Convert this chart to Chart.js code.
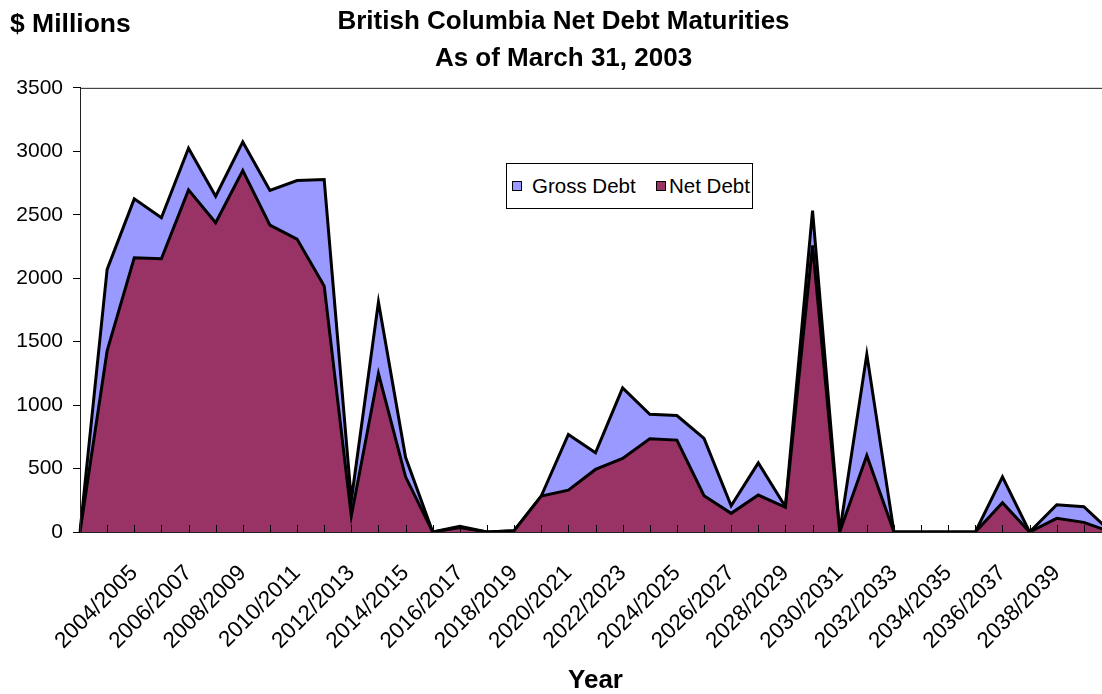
<!DOCTYPE html>
<html>
<head>
<meta charset="utf-8">
<script src="https://cdn.jsdelivr.net/npm/chart.js@4"></script>
<style>
  html, body { margin: 0; padding: 0; background: #fff; overflow: hidden; }
  canvas { display: block; }
  #wrap { position: relative; width: 1111px; height: 694px; }
  #legend {
    position: absolute; left: 506px; top: 163px; width: 245px; height: 44px;
    border: 1px solid #000; background: #fff;
    font-family: 'Liberation Sans', Arial, sans-serif; font-size: 20.5px; color: #000;
  }
  #legend .item {
    position: absolute; top: 0; height: 44px; display: flex; align-items: center;
    white-space: nowrap;
  }
  #legend .sw { width: 8px; height: 8px; border: 1.5px solid #000; }
</style>
</head>
<body>
<div id="wrap">
  <canvas id="debtChart" width="1111" height="694"></canvas>
  <div id="legend"></div>
</div>
<script>
const years = [
  "", "2003/2004", "2004/2005", "2005/2006", "2006/2007", "2007/2008",
  "2008/2009", "2009/2010", "2010/2011", "2011/2012", "2012/2013",
  "2013/2014", "2014/2015", "2015/2016", "2016/2017", "2017/2018",
  "2018/2019", "2019/2020", "2020/2021", "2021/2022", "2022/2023",
  "2023/2024", "2024/2025", "2025/2026", "2026/2027", "2027/2028",
  "2028/2029", "2029/2030", "2030/2031", "2031/2032", "2032/2033",
  "2033/2034", "2034/2035", "2035/2036", "2036/2037", "2037/2038",
  "2038/2039", "2039/2040", "2040/2041"
];

const grossDebt = [
  0, 2069, 2625, 2476, 3024, 2646, 3074, 2691, 2769, 2777,
  252, 1812, 588, 0, 45, 0, 10, 283, 769, 624,
  1135, 928, 918, 737, 207, 545, 199, 2533, 0, 1400,
  0, 0, 0, 0, 435, 0, 215, 199, 0
];

const netDebt = [
  0, 1427, 2161, 2153, 2696, 2437, 2848, 2418, 2308, 1938,
  126, 1249, 435, 0, 35, 0, 10, 283, 330, 493,
  580, 734, 724, 286, 147, 291, 195, 2258, 0, 602,
  0, 0, 0, 0, 231, 0, 108, 76, 0
];

Chart.defaults.font.family = "'Liberation Sans', Arial, sans-serif";
Chart.defaults.color = "#000000";

// extra bits Excel drew: "$ Millions", plot frame, inner x ticks
const extras = {
  id: "extras",
  afterDraw(chart) {
    const ctx = chart.ctx;
    const a = chart.chartArea;
    const x = chart.scales.x;
    ctx.save();
    ctx.fillStyle = "#000";
    ctx.font = "bold 26.5px 'Liberation Sans', Arial, sans-serif";
    ctx.textBaseline = "middle";
    ctx.fillText("$ Millions", 10, 25);

    ctx.strokeStyle = "#222";
    ctx.lineWidth = 1;
    ctx.strokeRect(a.left + 0.5, a.top + 0.5, a.right - a.left, a.bottom - a.top);

    ctx.strokeStyle = "#000";
    ctx.beginPath();
    for (let i = 1; i < years.length; i++) {
      const px = Math.round(x.getPixelForValue(i)) + 0.5;
      ctx.moveTo(px, a.bottom);
      ctx.lineTo(px, a.bottom - 7);
    }
    ctx.stroke();
    ctx.restore();
  }
};

const config = {
  type: "line",
  data: {
    labels: years,
    datasets: [
      {
        label: "Gross Debt",
        data: grossDebt,
        backgroundColor: "#9999FF",
        borderColor: "#000000",
        borderWidth: 3,
        fill: "origin",
        order: 1,
      },
      {
        label: "Net Debt",
        data: netDebt,
        backgroundColor: "#993366",
        borderColor: "#000000",
        borderWidth: 3,
        fill: "origin",
        order: 0,
      },
    ],
  },
  options: {
    responsive: false,
    animation: false,
    devicePixelRatio: 1,
    layout: { padding: { left: 16, right: 0, top: 0, bottom: 0 } },
    elements: {
      point: { radius: 0, hoverRadius: 0 },
      line: { tension: 0, borderJoinStyle: "miter" },
    },
    plugins: {
      tooltip: { enabled: false },
      legend: { display: false },
      title: {
        display: true,
        text: ["British Columbia Net Debt Maturities", "As of March 31, 2003"],
        font: { size: 26, weight: "bold", lineHeight: 1.42 },
        padding: { top: 3, bottom: 11 },
      },
    },
    scales: {
      x: {
        type: "category",
        offset: false,
        grid: { display: false },
        border: { display: true, color: "#000", width: 2 },
        afterFit: (scale) => {
          scale.height = 162;
          scale.paddingLeft = 0;
          scale.paddingRight = 0;
        },
        ticks: {
          autoSkip: false,
          maxRotation: 45,
          minRotation: 45,
          padding: 20,
          font: { size: 22.5 },
          // every second year, the last category has no label in the original
          callback: function (val, i) {
            return i % 2 === 0 && i < years.length - 1 ? this.getLabelForValue(val) : "";
          },
        },
        title: {
          display: true,
          text: "Year",
          font: { size: 26, weight: "bold" },
          padding: { top: 0, bottom: -2 },
        },
      },
      y: {
        min: 0,
        max: 3500,
        afterFit: (scale) => { scale.width = 64; },
        grid: { display: true, drawOnChartArea: false, drawTicks: true, tickLength: 7, color: "#000" },
        border: { display: true, color: "#000", width: 1 },
        ticks: {
          stepSize: 500,
          padding: 10,
          font: { size: 21 },
          callback: (v) => String(v),
        },
      },
    },
  },
  plugins: [extras],
};

const debtChart = new Chart(document.getElementById("debtChart"), config);

// HTML legend built from the chart's own datasets
const legendEl = document.getElementById("legend");
const legendLeft = [5, 149];
const legendGap = [10, 3];
debtChart.data.datasets.forEach((ds, i) => {
  const item = document.createElement("div");
  item.className = "item";
  item.style.left = legendLeft[i] + "px";
  const sw = document.createElement("span");
  sw.className = "sw";
  sw.style.background = ds.backgroundColor;
  sw.style.marginRight = legendGap[i] + "px";
  const txt = document.createElement("span");
  txt.textContent = ds.label;
  item.appendChild(sw);
  item.appendChild(txt);
  legendEl.appendChild(item);
});
</script>
</body>
</html>
